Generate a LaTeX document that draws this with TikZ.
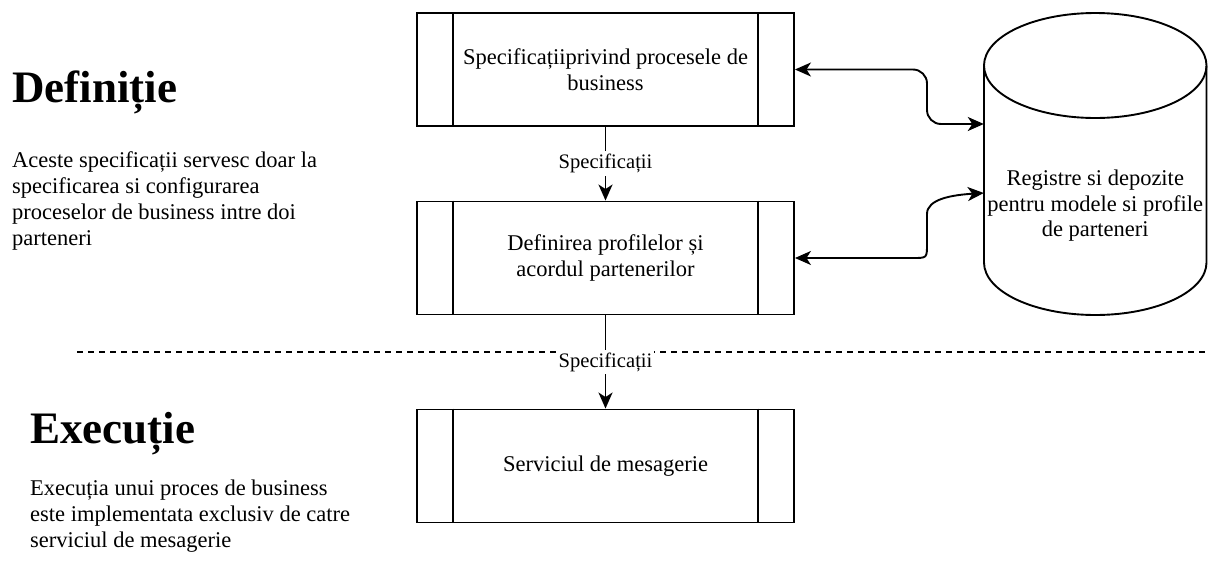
\documentclass[tikz,border=0pt]{standalone}
\usepackage{fontspec}
\setmainfont{Liberation Serif}
\usetikzlibrary{arrows.meta}
\begin{document}
\begin{tikzpicture}[x=1pt,y=-1pt,
  stroke/.style={line width=1.9pt, line join=miter},
  procbox/.style={stroke, draw, minimum width=377pt, minimum height=113pt,
    inner sep=0pt, align=center, font=\fontsize{22.5}{25.5}\selectfont},
  procline/.style={stroke},
  tip/.style={Stealth[length=16pt,width=14pt,inset=4.5pt]},
  conn/.style={stroke, -{Stealth[length=16pt,width=14pt,inset=4.5pt]}},
  biconn/.style={stroke, {Stealth[length=16pt,width=14pt,inset=4.5pt]}-{Stealth[length=16pt,width=14pt,inset=4.5pt]}},
  flowlabel/.style={fill=white, inner xsep=2pt, inner ysep=3pt, font=\fontsize{20.6}{24}\selectfont},
  heading/.style={inner sep=0pt, font=\fontsize{45}{50}\selectfont\bfseries},
  bodytext/.style={inner sep=0pt, align=left, font=\fontsize{22.5}{26}\selectfont},
  sepline/.style={line width=1.9pt, dash pattern=on 6pt off 5pt}
]
\useasboundingbox (0,0) rectangle (1208,563);

% section headings and their descriptions
\node[heading, anchor=base west] (hdef) at (12,102) {Definiție};
\node[bodytext, anchor=north west] (tdef) at (12,151.5)
  {Aceste specificații servesc doar la\\specificarea si configurarea\\proceselor de business intre doi\\parteneri};
\node[heading, anchor=base west] (hexe) at (30,443) {Execuție};
\node[bodytext, anchor=north west] (texe) at (30,479.6)
  {Execuția unui proces de business\\este implementata exclusiv de catre\\serviciul de mesagerie};

% separator between definition and execution
\coordinate (sepL) at (77,352);
\coordinate (sepR) at (1206,352);
\draw[sepline] (sepL) -- (sepR);

% predefined-process boxes
\node[procbox] (b1) at (605.5,69.5) {Specificațiiprivind procesele de\\business};
\node[procbox] (b2) at (605.5,258) {Definirea profilelor și\\acordul partenerilor};
\node[procbox] (b3) at (605.5,466) {Serviciul de mesagerie};
\foreach \n in {b1,b2,b3} {
  \draw[procline] ([xshift=37pt]\n.north west) -- ([xshift=37pt]\n.south west);
  \draw[procline] ([xshift=-37pt]\n.north east) -- ([xshift=-37pt]\n.south east);
}

% repository cylinder
\draw[stroke] (1095.25,65.5) ellipse [x radius=111.25pt, y radius=52.5pt];
\draw[stroke] (984,65.5) -- (984,262.5)
  arc[start angle=180, end angle=360, x radius=111.25pt, y radius=52.5pt] -- (1206.5,65.5);
\node[inner sep=0pt, minimum width=222.5pt, minimum height=302pt] (cyl) at (1095.25,164) {};
\node[inner sep=0pt, align=center, font=\fontsize{22.5}{25.5}\selectfont] (reg) at (1095.25,206)
  {Registre si depozite\\pentru modele si profile\\de parteneri};
% attachment points on the cylinder's left side (canvas y points up)
\coordinate (c1) at ([yshift=40pt]cyl.west);
\coordinate (c2) at ([yshift=-29pt]cyl.west);

% flow between the boxes
\draw[conn] (b1.south) -- node[flowlabel] {Specificații} (b2.north);
\draw[conn] (b2.south) -- node[flowlabel] {Specificații} (b3.north);

% links to the repository
\draw[biconn, rounded corners=14pt] (b1.east) -- (927,69.5) -- (927,124) -- (c1);
\draw[biconn] (b2.east) -- (913,258) .. controls (927,258) .. (927,244) -- (927,214)
  .. controls (927,199) and (952,195) .. (c2);
\end{tikzpicture}
\end{document}
